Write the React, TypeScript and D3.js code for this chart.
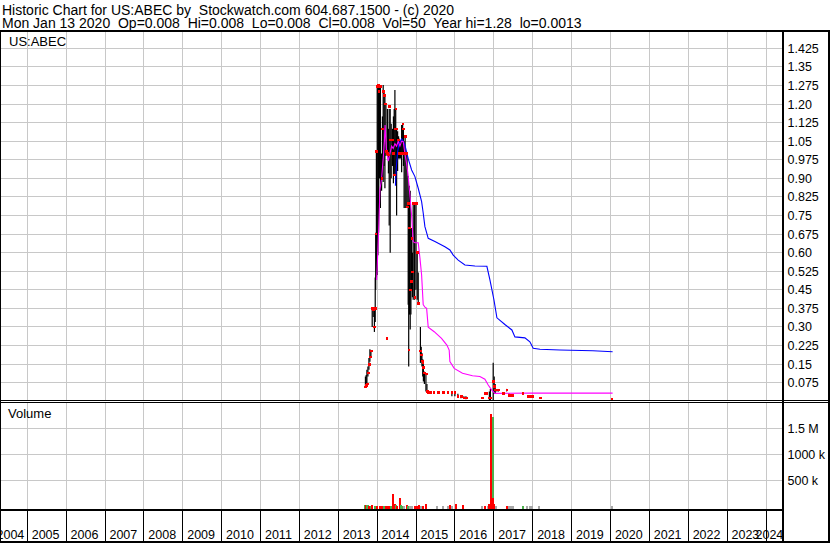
import React from 'react';
import * as d3 from 'd3';

const W = 830;
const H = 543;

const headerLine1 = 'Historic Chart for US:ABEC by  Stockwatch.com 604.687.1500 - (c) 2020';
const headerLine2 = 'Mon Jan 13 2020  Op=0.008  Hi=0.008  Lo=0.008  Cl=0.008  Vol=50  Year hi=1.28  lo=0.0013';
const symbolLabel = 'US:ABEC';
const volumeLabel = 'Volume';

const years = [2004, 2005, 2006, 2007, 2008, 2009, 2010, 2011, 2012, 2013, 2014, 2015, 2016, 2017, 2018, 2019, 2020, 2021, 2022, 2023, 2024];
const yearLabels = ['2004', '2005', '2006', '2007', '2008', '2009', '2010', '2011', '2012', '2013', '2014', '2015', '2016', '2017', '2018', '2019', '2020', '2021', '2022', '2023', '2024'];

const priceTicks = [0.075, 0.15, 0.225, 0.3, 0.375, 0.45, 0.525, 0.6, 0.675, 0.75, 0.825, 0.9, 0.975, 1.05, 1.125, 1.2, 1.275, 1.35, 1.425];
const priceTickLabels = ['0.075', '0.15', '0.225', '0.30', '0.375', '0.45', '0.525', '0.60', '0.675', '0.75', '0.825', '0.90', '0.975', '1.05', '1.125', '1.20', '1.275', '1.35', '1.425'];

const volumeTicks = [500000, 1000000, 1500000];
const volumeTickLabels = ['500 k', '1000 k', '1.5 M'];

// [time (decimal year), high, low, close]
const priceBars: [number, number, number, number][] = [
  [2013.697, 0.10, 0.055, 0.058], [2013.717, 0.106, 0.058, 0.065], [2013.735, 0.127, 0.066, 0.07],
  [2013.761, 0.14, 0.10, 0.115], [2013.787, 0.175, 0.127, 0.15], [2013.812, 0.21, 0.16, 0.18],
  [2013.838, 0.205, 0.18, 0.203], [2013.871, 0.38, 0.30, 0.375], [2013.897, 0.38, 0.34, 0.37],
  [2013.928, 0.37, 0.28, 0.30], [2013.949, 0.50, 0.32, 0.375], [2013.961, 0.68, 0.45, 0.675],
  [2013.979, 1.01, 0.50, 1.01], [2014.000, 1.277, 0.51, 1.27], [2014.018, 1.277, 0.59, 1.275],
  [2014.036, 1.28, 0.68, 1.25], [2014.057, 1.27, 0.90, 1.27], [2014.082, 1.265, 0.78, 1.27],
  [2014.113, 1.0, 0.85, 0.90], [2014.134, 1.15, 0.90, 1.10], [2014.154, 1.277, 0.885, 1.25],
  [2014.177, 1.25, 0.95, 1.236], [2014.198, 1.236, 0.86, 1.20], [2014.224, 1.20, 0.99, 1.01],
  [2014.242, 0.255, 0.255, 0.255], [2014.262, 1.18, 0.995, 1.0], [2014.288, 1.10, 0.92, 0.995],
  [2014.308, 1.18, 0.71, 1.19], [2014.334, 1.18, 0.60, 1.055], [2014.360, 1.12, 0.90, 1.055],
  [2014.391, 1.10, 0.95, 1.055], [2014.417, 1.15, 0.88, 1.0], [2014.437, 1.18, 0.91, 0.914],
  [2014.455, 1.257, 0.92, 1.10], [2014.476, 1.18, 0.88, 1.18], [2014.499, 1.10, 0.75, 1.10],
  [2014.525, 1.09, 0.93, 1.055], [2014.550, 1.07, 0.98, 1.055], [2014.571, 1.06, 0.98, 1.0],
  [2014.597, 1.05, 0.98, 1.0], [2014.628, 1.115, 0.925, 1.0], [2014.654, 1.12, 1.0, 1.12],
  [2014.674, 1.10, 0.95, 1.10], [2014.692, 1.05, 0.78, 1.0], [2014.718, 1.07, 0.78, 1.07],
  [2014.743, 0.995, 0.78, 1.0], [2014.769, 0.995, 0.78, 0.785], [2014.797, 0.91, 0.39, 0.80],
  [2014.810, 0.80, 0.14, 0.207], [2014.828, 0.87, 0.35, 0.70], [2014.849, 0.85, 0.29, 0.45],
  [2014.867, 0.70, 0.35, 0.483], [2014.885, 0.70, 0.45, 0.658], [2014.905, 0.60, 0.42, 0.523],
  [2014.926, 0.80, 0.41, 0.80], [2014.962, 0.80, 0.41, 0.42], [2014.996, 0.80, 0.45, 0.80],
  [2015.029, 0.60, 0.41, 0.60], [2015.055, 0.52, 0.39, 0.396], [2015.111, 0.30, 0.155, 0.203],
  [2015.132, 0.22, 0.16, 0.187], [2015.150, 0.195, 0.14, 0.163], [2015.171, 0.17, 0.10, 0.155],
  [2015.188, 0.15, 0.08, 0.136], [2015.214, 0.12, 0.07, 0.115], [2015.253, 0.11, 0.04, 0.11],
  [2015.279, 0.07, 0.034, 0.039], [2015.304, 0.045, 0.03, 0.036], [2015.36, 0.04, 0.03, 0.036],
  [2015.45, 0.04, 0.03, 0.036], [2015.561, 0.04, 0.03, 0.036], [2015.690, 0.038, 0.034, 0.036],
  [2015.818, 0.04, 0.03, 0.036], [2015.921, 0.04, 0.02, 0.036], [2015.998, 0.037, 0.02, 0.036],
  [2016.075, 0.03, 0.015, 0.019], [2016.153, 0.025, 0.012, 0.019], [2016.230, 0.02, 0.01, 0.013],
  [2016.282, 0.02, 0.008, 0.013], [2016.693, 0.015, 0.01, 0.013], [2016.770, 0.034, 0.03, 0.032],
  [2016.821, 0.034, 0.03, 0.032], [2016.885, 0.04, 0.005, 0.013], [2016.911, 0.05, 0.005, 0.013],
  [2016.983, 0.156, 0.005, 0.08], [2017.009, 0.10, 0.03, 0.06], [2017.035, 0.07, 0.03, 0.046],
  [2017.078, 0.05, 0.04, 0.046], [2017.117, 0.05, 0.04, 0.046], [2017.233, 0.034, 0.03, 0.032],
  [2017.328, 0.05, 0.04, 0.046], [2017.387, 0.032, 0.02, 0.025], [2017.439, 0.028, 0.022, 0.025],
  [2017.490, 0.028, 0.022, 0.025], [2017.747, 0.034, 0.03, 0.032], [2017.889, 0.02, 0.018, 0.019],
  [2017.928, 0.02, 0.018, 0.019], [2017.979, 0.02, 0.018, 0.019], [2018.185, 0.014, 0.012, 0.013],
  [2020.033, 0.008, 0.008, 0.008],
];

// short moving average (magenta) [time, value]
const shortAverage: [number, number][] = [
  [2013.985, 0.49], [2014.010, 0.584], [2014.044, 0.72], [2014.069, 0.853], [2014.113, 0.90],
  [2014.154, 0.98], [2014.185, 1.05], [2014.203, 1.115], [2014.237, 1.02], [2014.283, 0.97],
  [2014.327, 1.0], [2014.370, 1.03], [2014.412, 1.02], [2014.455, 1.04], [2014.499, 1.03],
  [2014.540, 1.05], [2014.584, 1.03], [2014.628, 1.05], [2014.669, 1.048], [2014.712, 1.0],
  [2014.756, 0.96], [2014.797, 0.91], [2014.841, 0.83], [2014.885, 0.75], [2014.926, 0.644],
  [2014.970, 0.64], [2015.055, 0.64], [2015.098, 0.58], [2015.142, 0.51], [2015.183, 0.39],
  [2015.227, 0.38], [2015.271, 0.375], [2015.312, 0.299], [2015.466, 0.281], [2015.654, 0.254],
  [2015.792, 0.227], [2015.851, 0.207], [2015.870, 0.16], [2015.980, 0.133], [2016.194, 0.113],
  [2016.451, 0.103], [2016.641, 0.10], [2016.770, 0.089], [2016.855, 0.066], [2016.942, 0.046],
  [2017.027, 0.032], [2017.927, 0.033], [2020.055, 0.033],
];

// long moving average (blue) [time, value]
const longAverage: [number, number][] = [
  [2014.468, 0.87], [2014.494, 0.95], [2014.520, 1.0], [2014.558, 1.04], [2014.628, 1.06],
  [2014.669, 1.05], [2014.712, 1.035], [2014.797, 0.98], [2014.885, 0.934], [2014.970, 0.907],
  [2015.055, 0.86], [2015.142, 0.806], [2015.183, 0.76], [2015.227, 0.705], [2015.312, 0.658],
  [2015.484, 0.645], [2015.741, 0.624], [2015.870, 0.611], [2015.955, 0.59], [2016.083, 0.57],
  [2016.256, 0.55], [2016.513, 0.546], [2016.821, 0.545], [2016.899, 0.49], [2017.002, 0.41],
  [2017.079, 0.337], [2017.284, 0.31], [2017.464, 0.288], [2017.542, 0.26], [2017.799, 0.256],
  [2017.927, 0.24], [2018.012, 0.214], [2018.185, 0.21], [2018.699, 0.207], [2019.548, 0.204],
  [2020.055, 0.20],
];

// [time, volume, direction: 1 up, -1 down, 0 unchanged]
const volumes: [number, number, number][] = [
  [2013.697, 30000, 1], [2013.722, 30000, -1], [2013.748, 40000, 1], [2013.774, 40000, 1],
  [2013.799, 20000, -1], [2013.838, 20000, 1], [2013.877, 30000, -1], [2013.941, 20000, 1],
  [2013.992, 20000, -1], [2014.069, 20000, -1], [2014.121, 20000, -1], [2014.172, 20000, 1],
  [2014.224, 20000, -1], [2014.275, 20000, -1], [2014.327, 20000, -1], [2014.365, 20000, 1],
  [2014.417, 250000, -1], [2014.455, 60000, -1], [2014.481, 30000, 1], [2014.507, 20000, -1],
  [2014.579, 175000, -1], [2014.610, 30000, 1], [2014.648, 20000, 1], [2014.687, 20000, 0],
  [2014.764, 30000, -1], [2014.802, 20000, 1], [2014.841, 20000, 0], [2014.892, 20000, 0],
  [2014.970, 20000, -1], [2015.021, 20000, -1], [2015.085, 30000, -1], [2015.124, 20000, 0],
  [2015.175, 20000, -1], [2015.265, 50000, -1], [2015.535, 20000, 0], [2015.702, 20000, 0],
  [2015.818, 20000, 0], [2015.870, 30000, -1], [2015.921, 20000, 0], [2016.016, 50000, -1],
  [2016.212, 30000, -1], [2016.693, 20000, 0], [2016.770, 20000, -1], [2016.847, 20000, 0],
  [2016.885, 50000, -1], [2016.937, 1780000, -1], [2016.975, 1730000, 1], [2016.988, 170000, -1],
  [2017.014, 60000, -1], [2017.066, 20000, 0], [2017.328, 20000, -1], [2017.387, 20000, 0],
  [2017.439, 20000, 0], [2017.490, 20000, 0], [2017.739, 20000, 1], [2017.850, 20000, 0],
  [2017.928, 20000, 0], [2017.979, 20000, 0], [2018.167, 20000, 0], [2020.037, 20000, 0],
];

const FONT = '"Liberation Sans", Arial, sans-serif';
const GRID = '#c8c8c8';

export default function App() {
  const plotRight = 782.5;
  const x = d3.scaleLinear().domain([2005, 2024]).range([27.3, 766]);
  const yP = d3.scaleLinear().domain([0, 1.425]).range([401.3, 48.3]);
  const yV = d3.scaleLinear().domain([0, 1500000]).range([507, 428.7]);
  const priceTop = 31.5;
  const priceBottom = 400;
  const volTop = 403;
  const volBase = 510;
  const axisBottom = 540.5;

  const line = d3
    .line<[number, number]>()
    .x((d) => x(d[0]))
    .y((d) => yP(d[1]));

  const volColor = (d: number) => (d > 0 ? '#4cb04c' : d < 0 ? '#ff0000' : '#a8a8a8');

  return (
    <svg
      width={W}
      height={H}
      style={{ position: 'absolute', left: 0, top: 0, background: '#fff' }}
      fontFamily={FONT}
    >
      <rect x={0} y={0} width={W} height={H} fill="#fff" />
      {/* header */}
      <text x={2} y={15} fontSize={14} fill="#000" style={{ whiteSpace: 'pre' }}>
        {headerLine1}
      </text>
      <text x={2} y={27.5} fontSize={14} fill="#000" style={{ whiteSpace: 'pre' }}>
        {headerLine2}
      </text>

      {/* grid */}
      <g stroke={GRID} strokeWidth={1} shapeRendering="crispEdges">
        {priceTicks.map((t) => (
          <line key={'ph' + t} x1={0} x2={plotRight - 1} y1={yP(t)} y2={yP(t)} />
        ))}
        {years.map((yr) => (
          <line key={'pv' + yr} x1={x(yr)} x2={x(yr)} y1={priceTop} y2={priceBottom} />
        ))}
        {volumeTicks.map((t) => (
          <line key={'vh' + t} x1={0} x2={plotRight - 1} y1={yV(t)} y2={yV(t)} />
        ))}
        {years.map((yr) => (
          <line key={'vv' + yr} x1={x(yr)} x2={x(yr)} y1={volTop} y2={volBase} />
        ))}
      </g>

      <text x={9} y={45.5} fontSize={13} fill="#000">
        {symbolLabel}
      </text>
      <text x={8} y={418} fontSize={13} fill="#000">
        {volumeLabel}
      </text>

      {/* high-low bars */}
      <g stroke="#000" strokeWidth={1.2}>
        {priceBars.map((b, i) => (
          <line key={'b' + i} x1={x(b[0])} x2={x(b[0])} y1={yP(b[1])} y2={yP(b[2])} />
        ))}
      </g>
      {/* moving averages */}
      <path d={line(longAverage) || ''} fill="none" stroke="#0000ff" strokeWidth={1.1} />
      <path d={line(shortAverage) || ''} fill="none" stroke="#ff00ff" strokeWidth={1.1} />
      {/* closes */}
      <g fill="#ff0000" shapeRendering="crispEdges">
        {priceBars.map((b, i) => (
          <rect key={'c' + i} x={x(b[0]) - 1} y={yP(b[3]) - 1.2} width={2.6} height={2.6} />
        ))}
      </g>

      {/* volume bars */}
      <g shapeRendering="crispEdges">
        {volumes.map((v, i) => (
          <rect
            key={'v' + i}
            x={x(v[0]) - 1}
            y={yV(v[1])}
            width={2}
            height={volBase - yV(v[1])}
            fill={volColor(v[2])}
          />
        ))}
      </g>

      {/* frame */}
      <g stroke="#000" shapeRendering="crispEdges" fill="none">
        <line x1={0} x2={W} y1={30.5} y2={30.5} strokeWidth={2} />
        <line x1={0} x2={W} y1={400.5} y2={400.5} strokeWidth={1} />
        <line x1={0} x2={W} y1={402.5} y2={402.5} strokeWidth={1} />
        <line x1={0} x2={plotRight} y1={volBase} y2={volBase} strokeWidth={2} />
        <line x1={0} x2={W} y1={541.5} y2={541.5} strokeWidth={2} />
        <line x1={plotRight} x2={plotRight} y1={30} y2={542} strokeWidth={2} />
        <line x1={828.5} x2={828.5} y1={30} y2={542} strokeWidth={2} />
        <line x1={0.5} x2={0.5} y1={30} y2={542} strokeWidth={1} />
        {years.map((yr) => (
          <line key={'t' + yr} x1={x(yr)} x2={x(yr)} y1={volBase} y2={axisBottom} strokeWidth={1} />
        ))}
      </g>

      {/* x labels */}
      <g fontSize={12.5} fill="#000">
        {years.map((yr, i) => (
          <text key={'xl' + yr} x={Math.max(-3.5, Math.min(x(yr) + 4.4, plotRight - 27))} y={539}>
            {yearLabels[i]}
          </text>
        ))}
      </g>

      {/* right axis labels */}
      <g fontSize={12.5} fill="#000" dominantBaseline="central">
        {priceTicks.map((t, i) => (
          <text key={'pl' + t} x={787.5} y={yP(t) + 0.5}>
            {priceTickLabels[i]}
          </text>
        ))}
        {volumeTicks.map((t, i) => (
          <text key={'vl' + t} x={787.5} y={yV(t) + 0.5}>
            {volumeTickLabels[i]}
          </text>
        ))}
      </g>
    </svg>
  );
}
